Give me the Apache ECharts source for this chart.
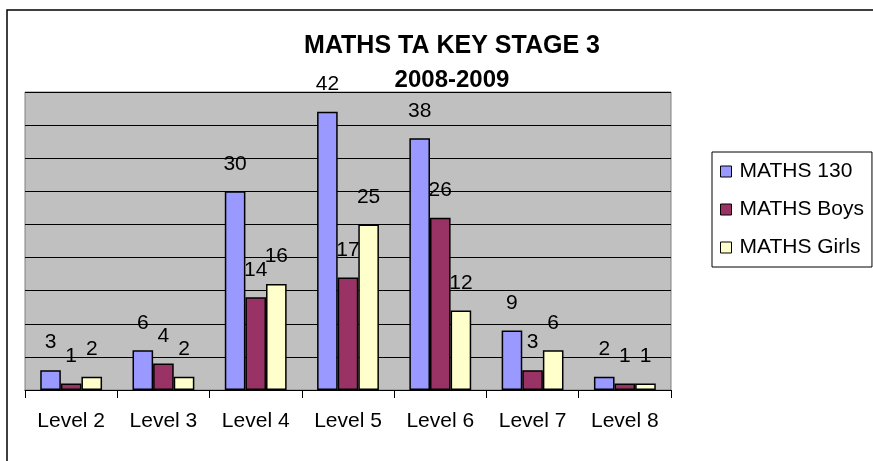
<!DOCTYPE html>
<html>
	<head>
		<meta charset="utf-8">
		<title>MATHS TA KEY STAGE 3</title>
		<script src="https://cdn.jsdelivr.net/npm/echarts@6/dist/echarts.min.js"></script>
	</head>
	<body style="margin:0;">
		<div id="main" style="width: 873px; height: 461px;"></div>
		<script>
			var levels = ['Level 2', 'Level 3', 'Level 4', 'Level 5', 'Level 6', 'Level 7', 'Level 8'];
			var maths130 = [3, 6, 30, 42, 38, 9, 2];
			var mathsBoys = [1, 4, 14, 17, 26, 3, 1];
			var mathsGirls = [2, 2, 16, 25, 12, 6, 1];

			var font = 'Arial, "Liberation Sans", sans-serif';

			// 每个系列的样式都一样，只是颜色不同
			var makeSeries = function(name, data, color){
				return {
					name: name,
					type: 'bar',
					data: data,
					barGap: 0,
					barCategoryGap: '33%',
					itemStyle: {
						color: color,
						borderColor: '#000',
						borderWidth: 1.5
					},
					label: {
						show: true,
						position: 'top',
						distance: 17,
						color: '#000',
						fontFamily: font,
						fontSize: 21
					}
				};
			};

			var mychart = echarts.init(document.getElementById('main'));
			var option = {
				backgroundColor: '#fff',
				animation: false,
				title: [{
					text: 'MATHS TA KEY STAGE 3',
					left: 447,
					top: 29,
					textAlign: 'center',
					textStyle: { color: '#000', fontFamily: font, fontSize: 25, fontWeight: 'bold' }
				}, {
					text: '2008-2009',
					left: 447,
					top: 63,
					textAlign: 'center',
					textStyle: { color: '#000', fontFamily: font, fontSize: 24, fontWeight: 'bold' }
				}],
				graphic: [{
					type: 'rect',
					shape: { x: 7, y: 10, width: 900, height: 500 },
					style: { fill: 'none', stroke: '#000', lineWidth: 1.5 },
					z: 100
				}],
				legend: {
					orient: 'vertical',
					left: 712,
					top: 152,
					padding: [9, 8, 9, 8],
					itemGap: 17,
					itemWidth: 11,
					itemHeight: 11,
					icon: 'rect',
					borderColor: '#000',
					borderWidth: 1,
					itemStyle: { borderColor: '#000', borderWidth: 1 },
					textStyle: { color: '#000', fontFamily: font, fontSize: 21, padding: [0, 0, 0, 3] },
					data: ['MATHS 130', 'MATHS Boys', 'MATHS Girls']
				},
				grid: {
					left: 25,
					top: 92,
					width: 646,
					height: 298,
					show: true,
					backgroundColor: '#C0C0C0',
					borderColor: '#808080',
					borderWidth: 1
				},
				xAxis: {
					type: 'category',
					data: levels,
					axisLine: { lineStyle: { color: '#000', width: 1 } },
					axisTick: { show: true, length: 8, lineStyle: { color: '#000' } },
					axisLabel: { color: '#000', fontFamily: font, fontSize: 21, margin: 21 }
				},
				yAxis: {
					type: 'value',
					min: 0,
					max: 45,
					interval: 5,
					axisLine: { show: false },
					axisTick: { show: false },
					axisLabel: { show: false },
					splitLine: { lineStyle: { color: '#000', width: 1 } }
				},
				series: [
					makeSeries('MATHS 130', maths130, '#9999FF'),
					makeSeries('MATHS Boys', mathsBoys, '#993366'),
					makeSeries('MATHS Girls', mathsGirls, '#FFFFCC')
				]
			};
			mychart.setOption(option);
		</script>
	</body>
</html>
